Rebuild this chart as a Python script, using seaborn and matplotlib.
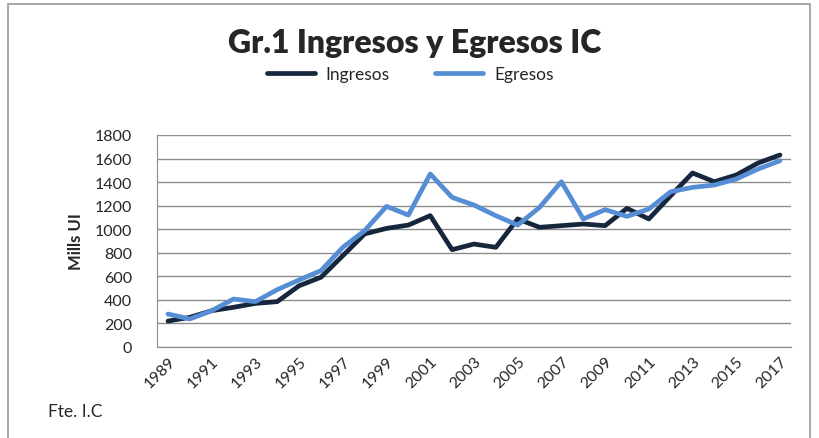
import matplotlib.pyplot as plt
import seaborn as sns
import pandas as pd
import numpy as np
from matplotlib.patches import Rectangle
from matplotlib.lines import Line2D

# Values (Mills UI)
years = list(range(1989, 2018))
ingresos = [220, 252, 308, 337, 370, 385, 520, 592, 775, 960, 1007, 1035, 1115, 826, 874,
            846, 1087, 1016, 1030, 1044, 1030, 1177, 1087, 1284, 1477, 1403, 1460, 1562, 1630]
egresos = [280, 238, 308, 407, 385, 487, 569, 648, 846, 988, 1194, 1120, 1469, 1270, 1205,
           1115, 1035, 1185, 1403, 1087, 1166, 1109, 1171, 1318, 1355, 1375, 1426, 1511, 1581]
tick_years = years[::2]

data = pd.DataFrame({
    'year': years * 2,
    'valor': ingresos + egresos,
    'serie': ['Ingresos'] * len(years) + ['Egresos'] * len(years),
})

sns.set_style('white')
plt.rcParams['font.family'] = ['Lato', 'DejaVu Sans']

fig = plt.figure(figsize=(8.2, 4.39), dpi=100)
ax = fig.add_axes([0.1915, 0.2073, 0.773, 0.483])

palette = {'Ingresos': '#16263d', 'Egresos': '#558ed5'}
sns.lineplot(data=data, x='year', y='valor', hue='serie', palette=palette,
             linewidth=3.4, ax=ax, legend=False)

ax.set_xlim(1988.5, 2017.5)
ax.set_ylim(0, 1800)
ax.set_yticks(np.arange(0, 1801, 200))
ax.set_xticks(tick_years)
ax.set_xticklabels([str(y) for y in tick_years], rotation=45, ha='right',
                   rotation_mode='anchor', fontsize=11.5)
ax.tick_params(axis='y', labelsize=11.5, length=0, pad=18)
ax.tick_params(axis='x', length=0, pad=5)
ax.yaxis.grid(True, color='#8c8c8c', linewidth=1)
ax.set_axisbelow(True)
for side in ['top', 'right']:
    ax.spines[side].set_visible(False)
for side in ['left', 'bottom']:
    ax.spines[side].set_color('#8c8c8c')
ax.set_xlabel('')
ax.set_ylabel('Mills UI', fontsize=12, fontweight='bold', labelpad=8)

fig.text(0.506, 0.902, 'Gr.1 Ingresos y Egresos IC', ha='center', va='center',
         fontsize=23, fontweight='heavy')

# legend
handles = [Line2D([0], [0], color=palette['Ingresos'], lw=3.4),
           Line2D([0], [0], color=palette['Egresos'], lw=3.4)]
fig.legend(handles, ['Ingresos', 'Egresos'], loc='center', bbox_to_anchor=(0.5, 0.83),
           ncol=2, frameon=False, fontsize=12.5, handlelength=2.8, columnspacing=2.6,
           handletextpad=0.6)

fig.text(0.058, 0.062, 'Fte. I.C', fontsize=12.5, va='center')

fig.patches.append(Rectangle((8 / 820, -0.05), 802 / 820, 1.05 - 5 / 439,
                             transform=fig.transFigure, fill=False,
                             edgecolor='#9a9a9a', linewidth=1.2))

fig.savefig('out.png', dpi=100)
